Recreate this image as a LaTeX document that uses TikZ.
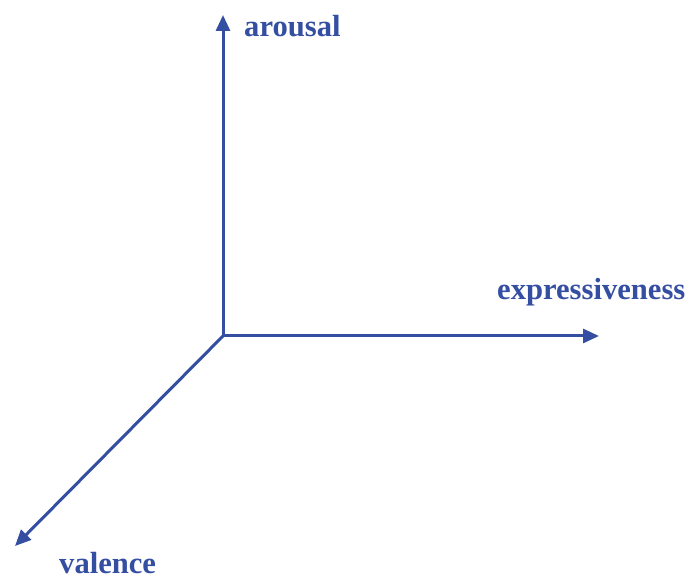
\documentclass[tikz,border=0pt]{standalone}
\usepackage{fontspec}
\setmainfont{Liberation Serif}
\usetikzlibrary{arrows.meta,positioning}
\definecolor{axisblue}{RGB}{52,78,162}

\begin{document}
\begin{tikzpicture}[
  x=1pt, y=1pt,
  axis/.style={draw=axisblue, line width=3pt,
               -{Triangle[length=16pt, width=14pt]}},
  lbl/.style={text=axisblue, font=\fontsize{30.6}{36}\selectfont\bfseries,
              inner sep=0pt, anchor=base west}]
  \useasboundingbox (0,0) rectangle (685,578);
  \coordinate (o) at (223,242);
  \coordinate (aro) at (223,563);
  \coordinate (expr) at (599,242);
  \coordinate (val) at (15,32);
  \node[lbl] (arolbl) at (244,541) {arousal};
  \node[lbl] (exprlbl) at (497,278) {expressiveness};
  \node[lbl] (vallbl) at (59,5) {valence};
  \draw[axis] (o) -- (aro);
  \draw[axis] (o) -- (expr);
  \draw[axis] (o) -- (val);
\end{tikzpicture}
\end{document}
